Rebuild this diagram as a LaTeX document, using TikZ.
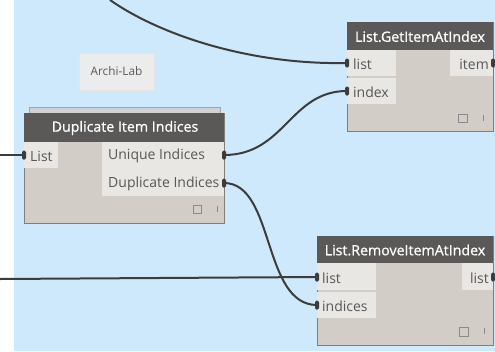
\documentclass[tikz,border=0pt]{standalone}
\usepackage{fontspec}
\setmainfont{Open Sans}
\newfontfamily\semib{Open Sans}[FakeBold=0.8]
\definecolor{canvas}{RGB}{206,233,251}
\definecolor{hdr}{RGB}{90,89,87}
\definecolor{nbody}{RGB}{210,206,199}
\definecolor{nport}{RGB}{233,231,227}
\definecolor{nframe}{RGB}{128,126,122}
\definecolor{ptext}{RGB}{88,88,88}
\definecolor{wire}{RGB}{60,60,60}
\definecolor{notefill}{RGB}{236,236,236}
\tikzset{
  x=1pt, y=-1pt,
  body/.style={fill=nbody, draw=nframe, line width=0.8pt},
  header/.style={fill=hdr},
  portbox/.style={fill=nport},
  title/.style={text=white, font=\semib\fontsize{14.2}{16}\selectfont, inner sep=0pt},
  plabel/.style={text=ptext, font=\fontsize{14}{16}\selectfont, inner sep=0pt},
  conn/.style={draw=wire, line width=2pt},
  marker/.style={fill=wire, rounded corners=1.5pt},
  icon/.style={draw=ptext!70, line width=0.7pt},
}
\begin{document}
\begin{tikzpicture}
\useasboundingbox (0,0) rectangle (495,351);
% canvas
\fill[white] (0,0) rectangle (495,351);
\fill[canvas] (14,0) rectangle (495,351);

% note
\fill[black!12] (80,54) rectangle (155,91);
\node[draw=black!10, fill=notefill, minimum width=75pt, minimum height=37pt, inner sep=0pt,
      text=black!65, font=\fontsize{11.8}{13}\selectfont] (note) at (116.5,71.5) {Archi-Lab};

% ---------- Duplicate Item Indices ----------
\fill[black!18, draw=nframe!70, line width=0.6pt] (29,107) rectangle (220,113);
\draw[body] (24,113) rectangle (224,223);
\fill[header] (24,113) rectangle (224,142);
\node[title] (dupT) at (125,128) {Duplicate Item Indices};
\fill[portbox] (24.4,142) rectangle (58,168);
\fill[portbox] (102,142) rectangle (223.6,196);
\node[plabel, anchor=west] (dupIn) at (30,156) {List};
\node[plabel, anchor=west] (dupU) at (108,156) {Unique Indices};
\node[plabel, anchor=west] (dupD) at (108,184) {Duplicate Indices};
\draw[icon] (193,205) rectangle (201,213);
\draw[icon] (217,206) -- (217,212);
\coordinate (dupInP) at (24,155);
\coordinate (dupUP) at (224,155);
\coordinate (dupDP) at (224,183);

% ---------- List.GetItemAtIndex ----------
\draw[body] (347,22) rectangle (493,131);
\fill[header] (347,22) rectangle (493,50);
\node[title] (getT) at (420,36.5) {List.GetItemAtIndex};
\fill[portbox] (347.4,50) rectangle (396,76);
\fill[portbox] (347.4,78) rectangle (396,104);
\fill[portbox] (450,50) rectangle (492.6,76);
\node[plabel, anchor=west] (getL) at (353,64) {list};
\node[plabel, anchor=west] (getI) at (353,92) {index};
\node[plabel, anchor=east] (getO) at (489,64) {item};
\draw[icon] (458,114) rectangle (467,122);
\draw[icon] (483,115) -- (483,121);
\coordinate (getLP) at (347,63);
\coordinate (getIP) at (347,91);
\coordinate (getOP) at (493,63);

% ---------- List.RemoveItemAtIndex ----------
\draw[body] (317,236) rectangle (493,345);
\fill[header] (317,236) rectangle (493,263);
\node[title] (remT) at (405,250) {List.RemoveItemAtIndex};
\fill[portbox] (317.4,263) rectangle (376,290);
\fill[portbox] (317.4,292) rectangle (376,318);
\fill[portbox] (462,263) rectangle (492.6,290);
\node[plabel, anchor=west] (remL) at (322,278) {list};
\node[plabel, anchor=west] (remI) at (322,306) {indices};
\node[plabel, anchor=east] (remO) at (489,278) {list};
\draw[icon] (459,327) rectangle (468,336);
\draw[icon] (484,328) -- (484,334);
\coordinate (remLP) at (317,277);
\coordinate (remIP) at (317,305);
\coordinate (remOP) at (493,277);

% free wire ends
\coordinate (srcTop) at (110,0);
\coordinate (srcA) at (0,155);
\coordinate (srcB) at (0,279);

% ---------- wires ----------
\draw[conn] (srcTop) .. controls (160,35) and (250,65) .. (getLP);
\draw[conn] (srcA) -- (dupInP);
\draw[conn] (srcB) -- (remLP);
\draw[conn] (dupUP) .. controls (285,155) and (290,91) .. (getIP);
\draw[conn] (dupDP) .. controls (275,183) and (262,305) .. (remIP);

% ---------- port markers ----------
\foreach \p in {dupInP,dupUP,dupDP,getLP,getIP,getOP,remLP,remIP,remOP}
  \fill[marker] ([shift={(-2,-4.5)}]\p) rectangle ([shift={(2,4.5)}]\p);
\end{tikzpicture}
\end{document}
